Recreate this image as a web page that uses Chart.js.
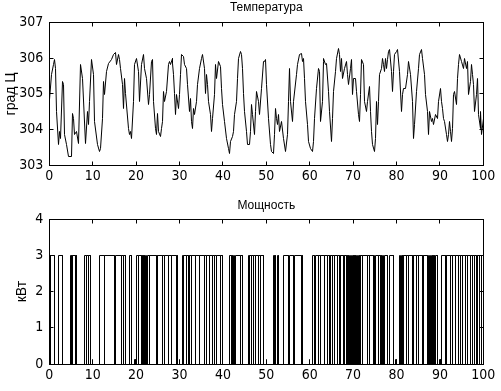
<!DOCTYPE html>
<html><head><meta charset="utf-8">
<script src="https://cdn.jsdelivr.net/npm/chart.js@4.4.0/dist/chart.umd.min.js"></script>
<style>
html,body{margin:0;padding:0;background:#fff;}
#wrap{position:relative;width:501px;height:391px;background:#fff;}
canvas{position:absolute;left:0;}
</style></head><body>
<div id="wrap">
<canvas id="c1" width="501" height="196" style="top:0"></canvas>
<canvas id="c2" width="501" height="195" style="top:196px"></canvas>
</div>
<script>
// ---- data ----
const tempTitle = 'Температура';
const tempAxisLabel = 'град Ц';
const powerTitle = 'Мощность';
const powerAxisLabel = 'кВт';
const xTicks = [0,10,20,30,40,50,60,70,80,90,100];
const tempTicks = [303,304,305,306,307];
const powerTicks = [0,1,2,3,4];

const tempX = [0.0,0.54,0.92,1.3,1.54,1.77,2.07,2.46,2.61,3.0,3.23,3.61,4.0,4.53,5.0,5.38,5.61,5.91,6.3,6.68,7.3,7.6,8.37,8.75,8.99,9.3,9.75,10.14,10.52,11.06,11.52,11.9,12.21,12.44,12.83,13.29,13.75,14.36,14.9,15.28,15.51,15.9,16.28,16.51,16.82,17.13,17.44,17.66,18.2,18.59,18.82,18.97,19.35,19.74,20.2,20.51,20.74,21.28,21.74,22.04,22.43,22.81,23.2,23.58,23.81,24.12,24.5,24.81,25.04,25.27,25.58,25.81,26.19,26.42,26.65,26.96,27.42,27.73,27.96,28.34,28.5,28.73,28.96,29.11,29.42,29.73,30.03,30.26,30.49,30.96,31.26,31.57,31.95,32.26,32.42,32.72,33.03,33.34,33.57,33.87,34.18,34.64,35.18,35.41,35.79,36.02,36.33,36.56,36.79,37.1,37.48,37.71,38.02,38.25,38.64,39.1,39.48,39.79,40.02,40.33,40.79,41.25,41.56,41.79,42.17,42.55,42.78,43.09,43.47,43.7,44.09,44.32,44.55,44.78,45.09,45.4,45.78,46.09,46.32,46.62,46.93,47.24,47.55,47.85,48.16,48.47,48.85,49.24,49.55,49.78,50.09,50.47,50.93,51.31,51.7,51.85,52.08,52.39,52.62,52.85,53.08,53.39,53.85,54.39,54.77,55.0,55.31,55.69,56.08,56.31,56.85,57.23,57.69,58.0,58.23,58.46,58.77,59.07,59.38,59.69,60.15,60.53,60.92,61.22,61.53,61.99,62.3,62.6,62.84,63.07,63.22,63.53,63.91,64.37,64.6,64.91,65.22,65.52,65.83,66.14,66.6,66.83,67.06,67.37,67.6,67.98,68.37,68.6,68.9,69.29,69.52,69.9,70.13,70.44,70.82,71.21,71.51,71.82,72.05,72.44,72.74,73.05,73.36,73.7,74.04,74.27,74.58,74.97,75.2,75.43,75.73,75.96,76.19,76.5,76.73,76.96,77.27,77.5,77.73,78.04,78.27,78.5,78.8,79.04,79.27,79.57,79.96,80.34,80.73,81.11,81.34,81.72,82.11,82.49,82.88,83.26,83.64,84.03,84.26,84.64,85.03,85.41,85.8,86.1,86.41,86.72,87.1,87.33,87.64,87.95,88.25,88.64,89.02,89.41,89.79,90.17,90.48,90.71,90.94,91.17,91.48,91.71,91.94,92.32,92.55,92.78,93.01,93.24,93.47,93.78,94.09,94.4,94.63,95.01,95.4,95.7,96.09,96.47,96.7,97.01,97.32,97.55,97.85,98.08,98.39,98.7,98.93,99.24,99.47,99.7,100];
const tempY = [304.83,305.53,305.81,305.95,305.72,304.50,303.57,303.94,303.76,305.35,305.25,303.85,303.57,303.24,303.24,304.46,304.32,303.85,303.94,303.62,305.81,305.44,303.62,304.50,304.13,304.79,305.95,305.53,304.22,303.57,303.38,303.48,304.32,305.35,304.97,305.63,305.86,305.95,306.09,306.17,305.81,306.09,305.95,305.72,305.25,304.60,305.44,305.02,304.04,303.85,303.94,303.76,304.79,305.81,306.00,305.63,304.79,305.81,306.09,305.72,305.44,304.69,304.97,305.91,305.95,304.79,304.04,303.85,304.46,303.94,303.80,304.04,304.22,305.07,304.79,305.07,305.81,305.91,305.81,306.00,305.86,305.53,305.02,304.41,304.97,304.60,304.97,305.53,306.09,306.05,305.81,305.72,305.25,304.50,304.88,304.22,304.04,304.60,304.41,304.79,305.25,305.72,306.00,306.09,305.72,305.02,305.53,305.25,304.79,304.41,303.94,304.32,304.97,305.81,305.44,305.91,305.77,305.16,304.69,304.22,303.76,303.48,303.34,303.66,303.80,303.94,304.41,304.79,305.44,306.00,306.19,306.09,305.72,305.02,304.50,303.94,303.57,303.57,303.94,304.69,304.41,303.85,304.50,305.07,304.79,304.41,305.16,305.91,305.91,305.95,305.25,304.32,303.57,303.38,303.34,303.85,304.60,304.32,304.13,304.41,303.94,304.22,303.76,303.38,303.85,304.79,305.72,304.79,304.22,304.79,305.53,305.81,306.09,306.14,305.91,306.00,305.44,304.79,304.13,303.66,303.48,303.38,303.66,304.32,305.16,305.72,305.63,304.22,304.79,305.91,306.00,305.81,305.86,305.07,304.50,303.66,304.32,305.07,305.63,306.00,306.28,306.09,305.63,306.00,305.44,305.72,305.91,305.53,305.25,305.72,305.95,304.97,305.44,305.44,305.07,304.41,304.22,304.97,305.95,305.81,304.79,304.50,304.79,305.20,304.50,303.94,303.57,303.38,303.76,304.79,304.13,304.79,305.53,305.72,306.00,305.81,305.63,306.00,305.72,305.95,306.19,306.23,305.63,305.07,305.63,306.09,306.19,306.23,305.63,304.50,304.97,305.16,305.16,305.53,305.91,305.53,304.79,303.76,304.13,305.07,305.72,306.09,306.23,306.00,305.53,304.97,304.50,303.85,304.50,304.22,304.32,304.13,304.41,304.32,304.79,305.16,304.79,304.60,304.32,304.22,303.85,303.66,303.85,304.22,303.94,303.66,304.04,304.97,305.07,304.69,305.44,305.81,306.09,305.91,305.72,306.00,305.72,305.91,304.97,305.35,305.81,305.53,305.25,304.50,304.97,305.44,304.41,304.04,304.50,303.85,304.30];

// power: pulses (start, end); a pulse ending where the next starts is a one-sample dip
const pulseStart = [0.00,0.30,2.05,4.84,5.15,5.45,6.07,8.22,8.68,8.99,9.90,11.67,12.67,15.36,16.67,17.20,18.59,19.70,20.12,20.50,21.35,21.55,21.75,21.95,22.15,22.35,22.55,23.20,24.66,25.04,26.19,26.58,27.58,28.11,29.27,29.90,30.65,31.03,31.57,32.15,32.30,32.80,33.72,34.64,35.80,36.18,36.80,37.56,38.10,38.48,39.48,41.56,42.00,42.20,42.40,42.60,42.80,44.00,45.86,46.16,46.62,47.04,47.40,48.31,48.64,50.00,51.70,51.95,52.50,54.00,55.45,56.50,58.20,59.90,60.70,61.40,62.00,62.40,63.45,64.10,64.50,64.90,65.30,65.80,66.40,66.80,67.20,67.70,68.00,68.40,68.75,69.15,69.35,69.55,69.75,69.95,70.15,70.35,70.55,70.75,70.95,71.15,71.35,71.55,71.70,72.20,73.40,73.80,74.90,75.10,75.80,76.20,76.75,76.95,77.15,77.35,78.40,79.80,80.60,80.85,81.05,81.30,81.70,82.30,82.70,83.60,84.00,84.60,85.00,85.90,86.30,87.15,87.35,87.55,87.75,87.95,88.35,88.55,88.75,88.95,89.90,90.40,91.20,91.50,92.50,92.90,93.50,94.20,94.80,95.20,96.00,96.40,97.10,97.60,97.90,98.40,98.70,99.20,99.60];
const pulseEnd   = [0.30,1.10,3.00,5.15,5.45,6.07,6.37,8.68,8.99,9.60,10.00,12.67,14.98,16.67,17.20,17.59,18.97,19.80,20.50,21.27,21.45,21.65,21.85,22.05,22.25,22.45,23.20,24.66,25.04,26.19,26.58,27.58,28.11,29.27,29.65,30.00,31.03,31.57,32.08,32.25,32.80,33.72,34.64,35.80,36.18,36.80,37.56,38.10,38.48,39.48,40.02,41.94,42.10,42.30,42.50,42.70,44.00,44.47,46.16,46.62,47.04,47.40,48.31,48.64,49.40,50.10,51.80,52.10,52.80,55.15,56.25,58.20,58.40,60.00,61.05,62.00,62.40,63.45,64.10,64.50,64.90,65.30,65.80,66.40,66.80,67.20,67.70,68.00,68.40,68.75,69.05,69.25,69.45,69.65,69.85,70.05,70.25,70.45,70.65,70.85,71.05,71.25,71.45,71.62,72.20,73.40,73.80,74.80,75.00,75.80,76.20,76.65,76.85,77.05,77.25,77.90,79.20,79.90,80.70,80.95,81.30,81.70,82.30,82.70,83.60,84.00,84.60,85.00,85.90,86.30,87.05,87.25,87.45,87.65,87.85,88.25,88.45,88.65,88.85,89.40,90.10,91.20,91.50,92.50,92.90,93.50,94.20,94.80,95.20,96.00,96.40,97.10,97.60,97.90,98.40,98.70,99.20,99.60,100.00];
const blipStarts = [9.90,19.70,29.90,50.00,59.90,79.80,89.90];
const pulseLevel = pulseStart.map(s => (blipStarts.includes(s) ? 0.12 : 3));

// ---- build ----
const tempData = tempX.map((x, i) => ({x, y: tempY[i]}));
const powerData = [{x: 0, y: 0}];
pulseStart.forEach((s, i) => {
  const e = pulseEnd[i], L = pulseLevel[i];
  powerData.push({x: s, y: 0}, {x: s, y: L}, {x: e, y: L}, {x: e, y: 0});
});
powerData.push({x: 100, y: 0});

const tickFont = "'Liberation Sans Narrow','DejaVu Sans Condensed','Liberation Sans',Arial,sans-serif";
const textFont = "'Liberation Sans',Arial,sans-serif";

const framePlugin = {
  id: 'frame',
  afterLayout(chart) {
    const a = chart.chartArea;
    if (chart.titleBlock) {
      chart.titleBlock.left = a.left;
      chart.titleBlock.right = a.right;
      chart.titleBlock.width = a.right - a.left;
    }
  },
  afterDatasetsUpdate(chart) {
    // snap computed element positions to pixel centres (crisp, aliased look)
    chart.getSortedVisibleDatasetMetas().forEach(meta => {
      meta.data.forEach(p => {
        p.x = Math.round(p.x - 0.5) + 0.5;
        p.y = Math.round(p.y - 0.5) + 0.5;
      });
      if (meta.dataset) delete meta.dataset._path;
    });
  },
  afterDatasetsDraw(chart) {
    const {ctx, chartArea: a, scales: {x, y}} = chart;
    ctx.save();
    ctx.strokeStyle = '#000';
    ctx.lineWidth = 1;
    const L = Math.round(a.left - 0.5) + 0.5, R = Math.round(a.right - 0.5) + 0.5;
    const T = Math.round(a.top - 0.5) + 0.5, B = Math.round(a.bottom - 0.5) + 0.5;
    ctx.strokeRect(L, T, R - L, B - T);
    ctx.beginPath();
    x.ticks.forEach(t => {
      const px = Math.round(x.getPixelForValue(t.value) - 0.5) + 0.5;
      ctx.moveTo(px, B); ctx.lineTo(px, B - 4);
      ctx.moveTo(px, T); ctx.lineTo(px, T + 4);
    });
    y.ticks.forEach(t => {
      const py = Math.round(y.getPixelForValue(t.value) - 0.5) + 0.5;
      ctx.moveTo(L, py); ctx.lineTo(L + 4, py);
      ctx.moveTo(R, py); ctx.lineTo(R - 4, py);
    });
    ctx.stroke();
    ctx.restore();
  }
};

function makeChart(id, data, title, ylabel, yTicks, opts) {
  return new Chart(document.getElementById(id), {
    type: 'line',
    data: { datasets: [{ data, borderColor: '#000', borderWidth: 1, pointRadius: 0, tension: 0, fill: false, clip: 2 }] },
    options: {
      responsive: false,
      animation: false,
      events: [],
      layout: { padding: { left: 0, right: 17.7, top: 0, bottom: 0 } },
      plugins: {
        legend: { display: false },
        tooltip: { enabled: false },
        title: { display: true, text: title, color: '#000', font: { family: textFont, size: 12, weight: 'normal' },
                 padding: { top: opts.titleTop, bottom: opts.titleBottom } }
      },
      scales: {
        x: {
          type: 'linear', min: 0, max: 100,
          afterBuildTicks: s => { s.ticks = xTicks.map(v => ({ value: v })); },
          afterFit: s => { s.height = opts.xHeight; },
          grid: { display: false, drawTicks: false },
          border: { display: false },
          ticks: { color: '#000', font: { family: tickFont, size: 14 }, padding: 3, maxRotation: 0, autoSkip: false }
        },
        y: {
          type: 'linear', min: yTicks[0], max: yTicks[yTicks.length - 1],
          afterBuildTicks: s => { s.ticks = yTicks.map(v => ({ value: v })); },
          afterFit: s => { s.width = 49.3; },
          grid: { display: false, drawTicks: false },
          border: { display: false },
          ticks: { color: '#000', font: { family: tickFont, size: 14 }, padding: 6, autoSkip: false },
          title: { display: true, text: ylabel, color: '#000', font: { family: textFont, size: 14 },
                   padding: { top: opts.yTitlePad, bottom: 0 } }
        }
      }
    },
    plugins: [framePlugin]
  });
}

makeChart('c1', tempData, tempTitle, tempAxisLabel, tempTicks, { titleTop: 0, titleBottom: 8, xHeight: 30.7, yTitlePad: 3 });
makeChart('c2', powerData, powerTitle, powerAxisLabel, powerTicks, { titleTop: 2.3, titleBottom: 6.6, xHeight: 27, yTitlePad: 13.5 });
</script>
</body></html>
